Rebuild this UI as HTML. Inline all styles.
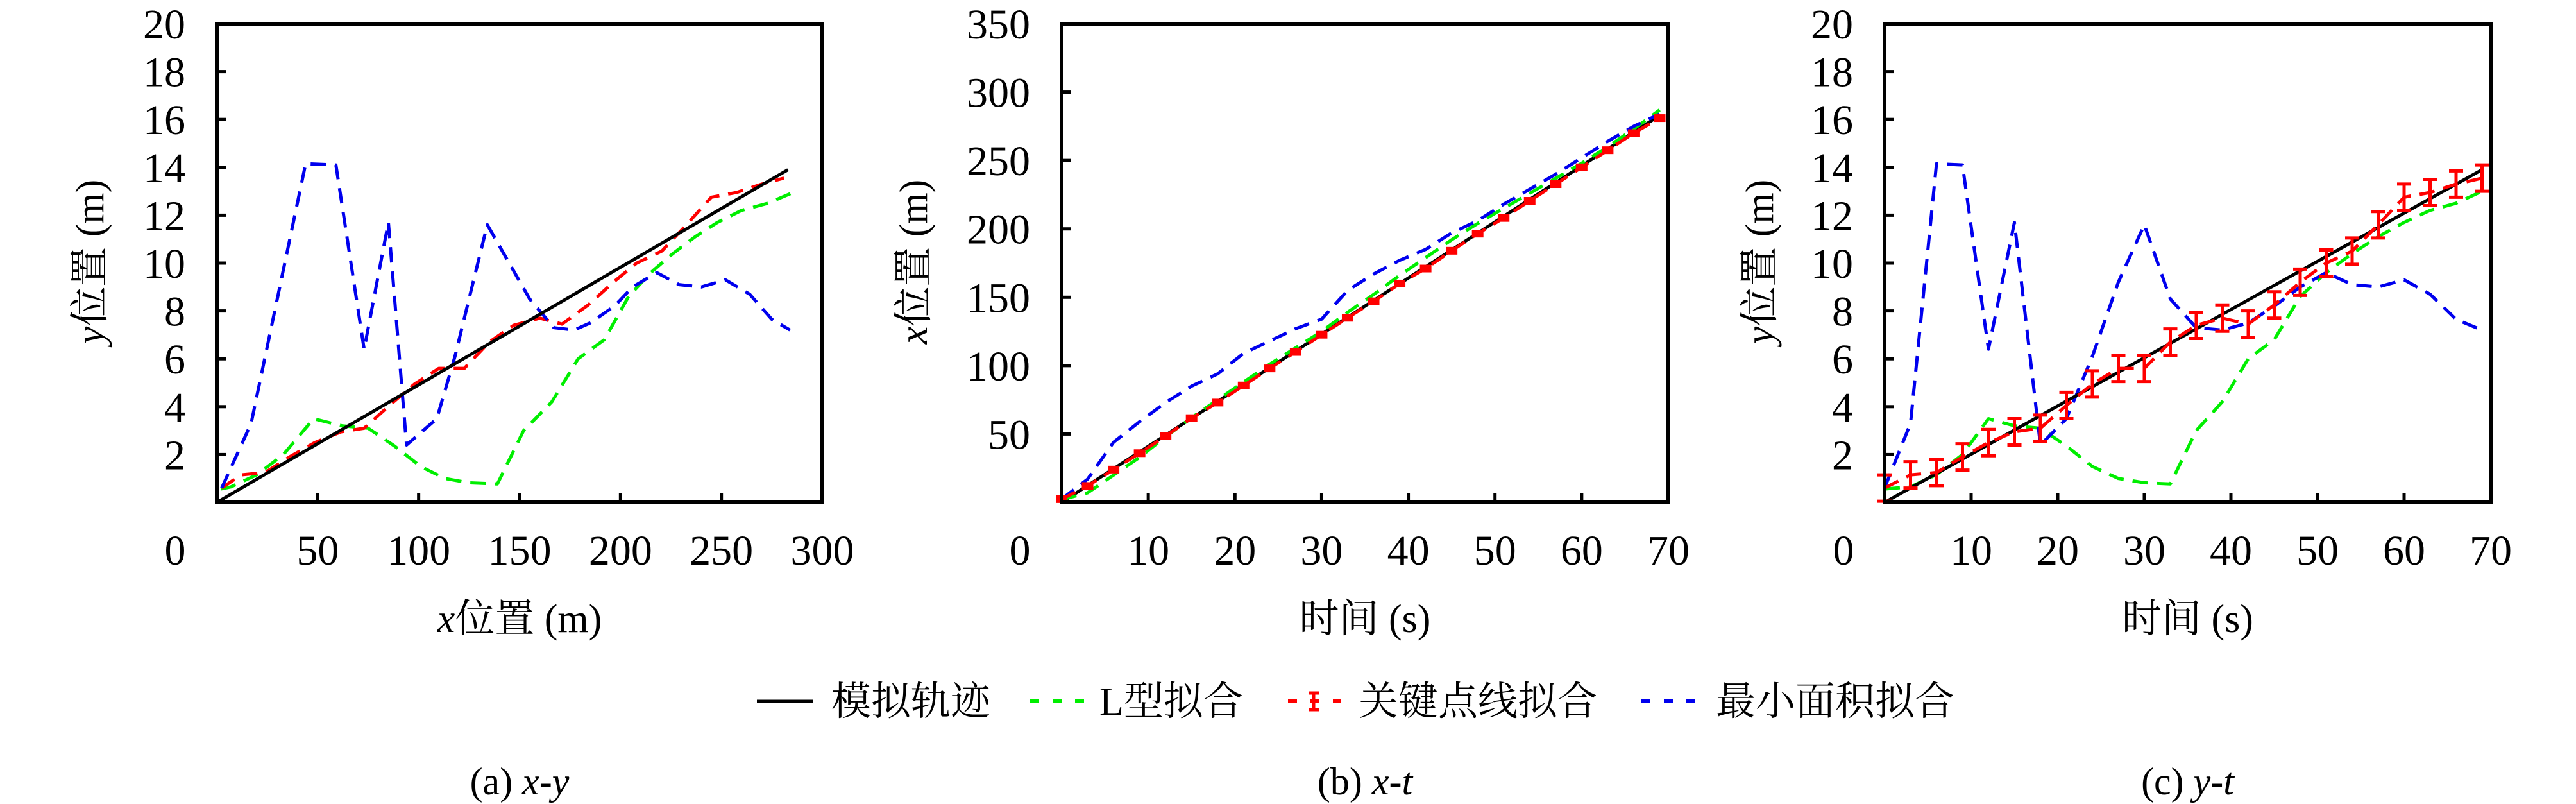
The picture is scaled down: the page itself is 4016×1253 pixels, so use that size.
<!DOCTYPE html>
<html><head><meta charset="utf-8">
<style>
html,body{margin:0;padding:0;background:#fff;}
svg{display:block;}
text{font-family:"Liberation Serif","Noto Serif CJK SC",serif;fill:#000;}
</style></head>
<body>
<svg id="fig" width="4016" height="1253" viewBox="0 0 4016 1253" xmlns="http://www.w3.org/2000/svg"></svg>
<script>
// ---- data ----
const timeKey = [0,3,6,9,12,15,18,21,24,27,30,33,36,39,42,45,48,51,54,57,60,63,66,69];
const trueT = [0,69];
const trueX = [0,283];
const trueY = [0,13.9];
const keyX = [2.4,12,24,36,48.5,61.6,73,85.5,98,110,122.6,135,147,160,171,184,196.5,208,220.5,232.7,245,257.5,270,281];
const keyY = [0.6,1.15,1.25,1.9,2.5,2.95,3.1,4.05,4.95,5.6,5.6,6.7,7.4,7.7,7.45,8.25,9.2,10.0,10.5,11.6,12.75,12.95,13.3,13.55];
const keyYErr = [0.55,0.55,0.55,0.55,0.55,0.55,0.55,0.55,0.55,0.55,0.55,0.55,0.55,0.55,0.55,0.55,0.55,0.55,0.55,0.55,0.55,0.55,0.55,0.55];
const keyXErr = [1,1,1,1,1,1,1,1,1,1,1,1,1,1,1,1,1,1,1,1,1,1,1,1];
const lX = [2,7,20,33,48,62,75,88,101,113,125,139,152,166,179,192,204,215,226,237,248,260,273,287];
const lY = [0.56,0.65,1.16,2.0,3.5,3.2,3.1,2.36,1.5,1.0,0.82,0.77,3.0,4.2,6.0,6.8,8.6,9.6,10.4,11.1,11.7,12.2,12.5,13.0];
const mX = [2.4,17,44,59,73,85,94,109,118,127,134,155,167,177,185,197,206,218,229,240,252,264,275,284];
const mY = [0.6,3.3,14.15,14.1,6.4,11.7,2.4,3.5,6.1,9.2,11.6,8.5,7.3,7.2,7.5,8.2,9.0,9.6,9.1,9.0,9.3,8.7,7.65,7.2];
const ticksA_x = [50,100,150,200,250,300];
const ticksT = [10,20,30,40,50,60,70];
const ticksY20 = [2,4,6,8,10,12,14,16,18,20];
const ticksY350 = [50,100,150,200,250,300,350];

const NS = "http://www.w3.org/2000/svg";
const svg = document.getElementById('fig');
function mk(tag, attrs, parent){
  const e = document.createElementNS(NS, tag);
  for (const k in attrs) e.setAttribute(k, attrs[k]);
  (parent||svg).appendChild(e);
  return e;
}
const TOP=37, BOT=783;
const panels = [
  {id:'a', L:338, R:1282, xmax:300, ymax:20, xt:ticksA_x, yt:ticksY20, zeroX:273, xtitle:'位置 (m)', xitalic:'x', ytitle:'位置 (m)', yitalic:'y', ytx:141, cap:'(a) ', capI:'x-y'},
  {id:'b', L:1655, R:2601, xmax:70, ymax:350, xt:ticksT, yt:ticksY350, zeroX:1590, xtitle:'时间 (s)', xitalic:'', ytitle:'位置 (m)', yitalic:'x', ytx:1425, cap:'(b) ', capI:'x-t'},
  {id:'c', L:2938, R:3883, xmax:70, ymax:20, xt:ticksT, yt:ticksY20, zeroX:2874, xtitle:'时间 (s)', xitalic:'', ytitle:'位置 (m)', yitalic:'y', ytx:2744, cap:'(c) ', capI:'y-t'}
];
function line(g, xs, ys, sx, sy, color, dash, name){
  let d='';
  for(let i=0;i<xs.length;i++){ d += (i?'L':'M') + sx(xs[i]).toFixed(1)+','+sy(ys[i]).toFixed(1); }
  const p = mk('path',{d:d,fill:'none',stroke:color,'stroke-width':5,'stroke-dasharray':dash||'none','stroke-linejoin':'round'},g);
  
  
}
function errbars(g, xs, ys, errs, sx, sy, vertical, name){
  for(let i=0;i<xs.length;i++){
    const cx=sx(xs[i]), y1=sy(ys[i]-errs[i]), y2=sy(ys[i]+errs[i]);
    const b = mk('path',{d:`M${cx},${y1}L${cx},${y2}M${cx-11},${y1}L${cx+11},${y1}M${cx-11},${y2}L${cx+11},${y2}`,stroke:'#ff0000','stroke-width':5,fill:'none'},g);
    
    
  }
}
panels.forEach(P=>{
  const g = mk('g',{});
  
  
  const sx = v => P.L + v/P.xmax*(P.R-P.L);
  const sy = v => BOT - v/P.ymax*(BOT-TOP);
  // series
  if(P.id==='a'){
    line(g, lX, lY, sx, sy, '#00ee00', '24 14', 'l-fit-line');
    line(g, keyX, keyY, sx, sy, '#ff0000', '24 14', 'keypoint-fit-line');
    line(g, mX, mY, sx, sy, '#0000ee', '24 14', 'min-area-fit-line');
    line(g, trueX, trueY, sx, sy, '#000', null, 'true-trajectory-line');
  } else if(P.id==='b'){
    line(g, trueT, trueX, sx, sy, '#000', null, 'true-trajectory-line');
    line(g, timeKey, lX, sx, sy, '#00ee00', '24 14', 'l-fit-line');
    line(g, timeKey, mX, sx, sy, '#0000ee', '24 14', 'min-area-fit-line');
    line(g, timeKey, keyX, sx, sy, '#ff0000', '24 14', 'keypoint-fit-line');
    timeKey.forEach((t,i)=>{
      const r = mk('rect',{x:sx(t)-9,y:sy(keyX[i])-6,width:18,height:12,fill:'#ff0000'},g);
      
      
    });
  } else {
    line(g, timeKey, lY, sx, sy, '#00ee00', '24 14', 'l-fit-line');
    line(g, timeKey, mY, sx, sy, '#0000ee', '24 14', 'min-area-fit-line');
    line(g, trueT, trueY, sx, sy, '#000', null, 'true-trajectory-line');
    line(g, timeKey, keyY, sx, sy, '#ff0000', '24 14', 'keypoint-fit-line');
    errbars(g, timeKey, keyY, keyYErr, sx, sy, true, 'keypoint-errorbar');
  }
  // frame
  const fr = mk('rect',{x:P.L,y:TOP,width:P.R-P.L,height:BOT-TOP,fill:'none',stroke:'#000','stroke-width':6},g);
  
  
  // x ticks
  P.xt.forEach(v=>{
    const x=sx(v);
    if(v<P.xmax){ const t=mk('line',{x1:x,y1:BOT,x2:x,y2:BOT-14,stroke:'#000','stroke-width':5},g);
        }
    const tl = mk('text',{x:x,y:880,'font-size':66,'text-anchor':'middle'},g);
    tl.textContent = v;
    
    
  });
  const z = mk('text',{x:P.zeroX,y:880,'font-size':66,'text-anchor':'middle'},g);
  z.textContent='0';
  
  
  // y ticks
  P.yt.forEach(v=>{
    const y=sy(v);
    if(v<P.ymax){ const t=mk('line',{x1:P.L,y1:y,x2:P.L+14,y2:y,stroke:'#000','stroke-width':5},g);
        }
    const tl = mk('text',{x:P.L-49,y:y+23,'font-size':66,'text-anchor':'end'},g);
    tl.textContent = v;
    
    
  });
  // x title
  const xt = mk('text',{x:(P.L+P.R)/2,y:985,'font-size':62,'text-anchor':'middle'},g);
  if(P.xitalic){ const s=mk('tspan',{'font-style':'italic'},xt); s.textContent=P.xitalic; }
  const s2=mk('tspan',{},xt); s2.textContent=P.xtitle;
  
  
  // y title
  const yt = mk('text',{x:0,y:0,'font-size':62,'text-anchor':'middle',transform:`translate(${P.ytx+20},408) rotate(-90)`},g);
  const s3=mk('tspan',{'font-style':'italic'},yt); s3.textContent=P.yitalic;
  const s4=mk('tspan',{},yt); s4.textContent=P.ytitle;
  
  
  // caption
  const cp = mk('text',{x:(P.L+P.R)/2,y:1238,'font-size':60,'text-anchor':'middle'},g);
  const c1=mk('tspan',{},cp); c1.textContent=P.cap;
  const c2=mk('tspan',{'font-style':'italic'},cp); c2.textContent=P.capI;
  
  
});
</script>
<svg width="4016" height="1253" style="position:absolute;left:0;top:0;pointer-events:none" xmlns="http://www.w3.org/2000/svg">
  <g>
    <line x1="1180" y1="1093" x2="1267" y2="1093" stroke="#000" stroke-width="5"/>
    <text x="1296" y="1114" font-size="62" font-family="Liberation Serif, Noto Serif CJK SC, serif">模拟轨迹</text>
  </g>
  <g>
    <line x1="1606" y1="1093" x2="1690" y2="1093" stroke="#00ee00" stroke-width="6" stroke-dasharray="14 21"/>
    <text x="1714" y="1114" font-size="62" font-family="Liberation Serif, Noto Serif CJK SC, serif">L型拟合</text>
  </g>
  <g>
    <line x1="2008" y1="1093" x2="2090" y2="1093" stroke="#ff0000" stroke-width="6" stroke-dasharray="14 21"/>
    <path d="M2048,1080L2048,1106M2040,1080L2056,1080M2040,1106L2056,1106" stroke="#ff0000" stroke-width="5" fill="none"/>
    <text x="2118" y="1114" font-size="62" font-family="Liberation Serif, Noto Serif CJK SC, serif">关键点线拟合</text>
  </g>
  <g>
    <line x1="2559" y1="1093" x2="2650" y2="1093" stroke="#0000ee" stroke-width="6" stroke-dasharray="14 21"/>
    <text x="2675" y="1114" font-size="62" font-family="Liberation Serif, Noto Serif CJK SC, serif">最小面积拟合</text>
  </g>
</svg>
</body></html>
